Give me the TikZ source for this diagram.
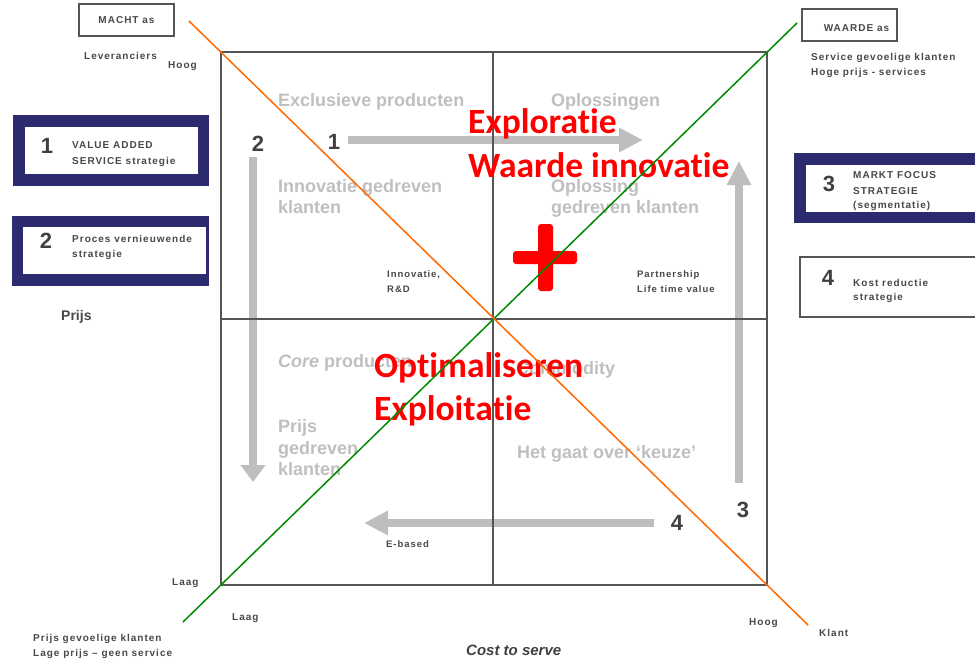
\documentclass[tikz,border=0pt]{standalone}
\usepackage{fontspec}
\setmainfont{Liberation Sans}
\newfontfamily\lblfont{Liberation Sans}[LetterSpace=10]
\newfontfamily\redfont{Carlito}[Ligatures=NoCommon]
\usetikzlibrary{arrows.meta}

\definecolor{navy}{HTML}{2B2B6E}
\definecolor{gridgray}{HTML}{555555}
\definecolor{txtgray}{HTML}{484848}
\definecolor{numgray}{HTML}{404040}
\definecolor{quadgray}{HTML}{BFBFBF}
\definecolor{arrowgray}{HTML}{BEBEBE}
\definecolor{diagorange}{HTML}{FF6A00}
\definecolor{diaggreen}{HTML}{008A00}
\definecolor{hotred}{HTML}{FF0000}

\tikzset{
  lbl/.style={inner sep=0pt, anchor=base west, text=txtgray,
    font=\lblfont\bfseries\fontsize{10}{12}\selectfont},
  smalllbl/.style={lbl, font=\lblfont\bfseries\fontsize{9.5}{11}\selectfont},
  quad/.style={inner sep=0pt, anchor=base west, text=quadgray,
    font=\bfseries\fontsize{18}{21}\selectfont},
  num/.style={inner sep=0pt, anchor=base, text=numgray,
    font=\bfseries\fontsize{22}{26}\selectfont},
  bigred/.style={inner sep=0pt, anchor=base west, text=hotred,
    font=\redfont\bfseries\fontsize{35.5}{40}\selectfont},
  axisbox/.style={draw=gridgray, line width=1.6pt, minimum width=95pt,
    minimum height=32pt, inner sep=0pt},
  gridline/.style={draw=gridgray, line width=1.8pt},
  flow/.style={draw=arrowgray, line width=8pt,
    -{Triangle[length=24pt, width=23pt]}},
  diag/.style={line width=1.5pt},
}

\begin{document}
\begin{tikzpicture}[x=1pt, y=-1pt]
\useasboundingbox (0,0) rectangle (975,659);

% flow arrows (drawn first, the grid runs over them)
\coordinate (a1s) at (348,140);  \coordinate (a1e) at (643,140);
\coordinate (a2s) at (253,157);  \coordinate (a2e) at (253,482);
\coordinate (a3s) at (739,483);  \coordinate (a3e) at (739,161);
\coordinate (a4s) at (654,523);  \coordinate (a4e) at (364,523);
\draw[flow] (a1s) -- (a1e);
\draw[draw=arrowgray, line width=8pt, -{Triangle[length=17pt, width=24pt]}] (a2s) -- (a2e);
\draw[flow] (a3s) -- (a3e);
\draw[flow] (a4s) -- (a4e);

% matrix grid
\coordinate (tl) at (221,52);  \coordinate (br) at (767,585);
\coordinate (tr) at (767,52);  \coordinate (bl) at (221,585);
\coordinate (mt) at (493,52);  \coordinate (mb) at (493,585);
\coordinate (ml) at (221,319); \coordinate (mr) at (767,319);
\draw[gridline] (tl) rectangle (br);
\draw[gridline] (mt) -- (mb);
\draw[gridline] (ml) -- (mr);

% quadrant texts
\node[quad] (q1) at (278,106) {Exclusieve producten};
\node[quad] (q2) at (551,106) {Oplossingen};
\node[quad] (q3a) at (278,192) {Innovatie gedreven};
\node[quad] (q3b) at (278,213) {klanten};
\node[quad] (q4a) at (551,192) {Oplossing};
\node[quad] (q4b) at (551,213) {gedreven klanten};
\node[quad] (q5) at (278,367) {\textit{Core} producten};
\node[quad] (q6) at (516,374) {Commodity};
\node[quad] (q7a) at (278,432) {Prijs};
\node[quad] (q7b) at (278,454) {gedreven};
\node[quad] (q7c) at (278,475) {klanten};
\node[quad] (q8) at (517,458) {Het gaat over ‘keuze’};

% arrow numbers
\node[num] (n1) at (334,149) {1};
\node[num] (n2) at (258,151) {2};
\node[num] (n3) at (743,517) {3};
\node[num] (n4) at (677,530) {4};

% headline texts
\node[bigred] (expl) at (468,133) {Exploratie};
\node[bigred] (waarde) at (468,177) {Waarde innovatie};
\node[bigred] (optim) at (374,377) {Optimaliseren};
\node[bigred] (exploit) at (374,420) {Exploitatie};

% plus sign
\fill[hotred, rounded corners=3pt] (538,224) rectangle (553,291);
\fill[hotred, rounded corners=3pt] (513,251) rectangle (577,264);

% diagonals
\coordinate (o1) at (189,21);  \coordinate (o2) at (808,625);
\coordinate (g1) at (183,622); \coordinate (g2) at (797,23);
\draw[diag, diaggreen] (g1) -- (g2);
\draw[diag, diagorange] (o1) -- (o2);

% inner labels
\node[smalllbl] (inn1) at (387,277) {Innovatie,};
\node[smalllbl] (inn2) at (387,292) {R\&D};
\node[smalllbl] (part1) at (637,277) {Partnership};
\node[smalllbl] (part2) at (637,292) {Life time value};
\node[smalllbl] (ebased) at (386,547) {E-based};

% axis boxes and labels
\node[axisbox, lbl, anchor=center] (macht) at (126.5,20) {MACHT as};
\node[axisbox] (waardebox) at (849.5,25) {};
\node[lbl, anchor=base] (waardeas) at (856.5,31.5) {WAARDE as};
\node[lbl] (lev) at (84,59) {Leveranciers};
\node[lbl] (hoogl) at (168,68) {Hoog};
\node[lbl] (svc1) at (811,60) {Service gevoelige klanten};
\node[lbl] (svc2) at (811,75) {Hoge prijs - services};
\node[inner sep=0pt, anchor=base west, text=txtgray,
  font=\bfseries\fontsize{14}{16}\selectfont] (prijs) at (61,320) {Prijs};
\node[lbl] (laagl) at (172,585) {Laag};
\node[lbl] (laagb) at (232,620) {Laag};
\node[lbl] (pg1) at (33,641) {Prijs gevoelige klanten};
\node[lbl] (pg2) at (33,656) {Lage prijs – geen service};
\node[lbl] (hoogb) at (749,625) {Hoog};
\node[lbl] (klant) at (819,636) {Klant};
\node[inner sep=0pt, anchor=base west, text=numgray,
  font=\bfseries\itshape\fontsize{15}{18}\selectfont] (cts) at (466,655) {Cost to serve};

% strategy boxes
\fill[navy] (13,115) rectangle (209,186);
\fill[white] (25,127) rectangle (198,174);
\node[num] (s1) at (47,153) {1};
\node[lbl] (s1a) at (72,148) {VALUE ADDED};
\node[lbl] (s1b) at (72,164) {SERVICE strategie};

\fill[navy] (12,216) rectangle (209,286);
\fill[white] (23,227) rectangle (206,274);
\node[num] (s2) at (46,248) {2};
\node[lbl] (s2a) at (72,242) {Proces vernieuwende};
\node[lbl] (s2b) at (72,257) {strategie};

\fill[navy] (794,153) rectangle (975,223);
\fill[white] (806,165) rectangle (975,212);
\node[num] (s3) at (829,191) {3};
\node[lbl] (s3a) at (853,178) {MARKT FOCUS};
\node[lbl] (s3b) at (853,194) {STRATEGIE};
\node[lbl] (s3c) at (853,208) {(segmentatie)};

\draw[draw=gridgray, line width=1.8pt] (976,257) -- (800,257) -- (800,317) -- (976,317);
\node[num] (s4) at (828,285) {4};
\node[lbl] (s4a) at (853,286) {Kost reductie};
\node[lbl] (s4b) at (853,300) {strategie};
\end{tikzpicture}
\end{document}
